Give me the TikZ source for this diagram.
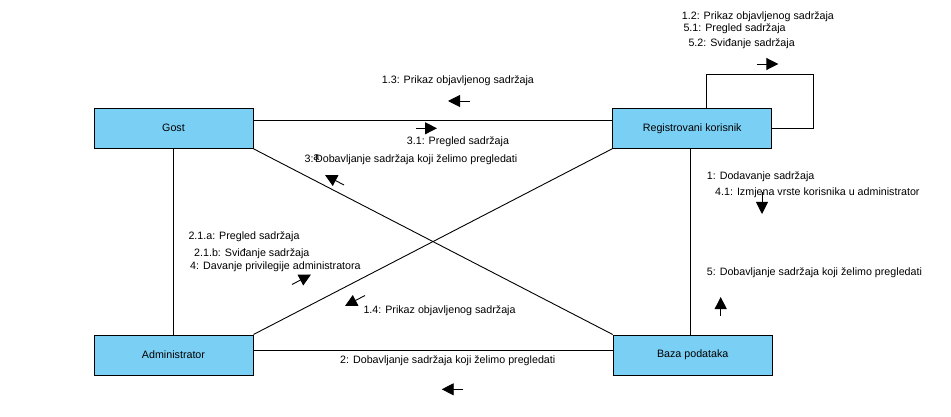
\documentclass[tikz,border=0pt]{standalone}
\usepackage{fontspec}
\setmainfont{Liberation Sans}
\usetikzlibrary{arrows.meta}
\definecolor{boxblue}{RGB}{122,207,245}
\begin{document}
\begin{tikzpicture}[x=1pt,y=-1pt,
  font=\fontsize{10.7}{12}\selectfont,
  box/.style={draw=black, line width=1pt, fill=boxblue, minimum width=159pt,
    minimum height=40pt, inner sep=0pt, anchor=center},
  conn/.style={line width=0.9pt},
  msg/.style={-{Triangle[length=12pt,width=12pt]}, line width=0.9pt},
  lbl/.style={fill=white, inner xsep=1.5pt, inner ysep=1pt, anchor=base west}]
\useasboundingbox (0,0) rectangle (951,417);

% box positions (drawn first to have anchors)
\node[box] (gost) at (173.5,128.3) {Gost};
\node[box] (reg) at (692.2,128.3) {Registrovani korisnik};
\node[box] (admin) at (173.5,355) {Administrator};
\node[box] (baza) at (692.7,355) {Baza podataka};
\coordinate (loopc) at (813.3,128.3);

% connectors
\draw[conn] ([yshift=8.3pt]gost.east) -- ([yshift=8.3pt]reg.west);
\draw[conn] ([yshift=5pt]admin.east) -- ([yshift=5pt]baza.west);
\draw[conn] (gost.south) -- (admin.north);
\draw[conn] ([xshift=-2.2pt]reg.south) -- ([xshift=-2.2pt]reg.south |- baza.north);
\draw[conn] (gost.south east) -- (baza.north west);
\draw[conn] (admin.north east) -- (reg.south west);
\draw[conn] ([xshift=14.5pt]reg.north) -- ++(0,-33.3) -| (loopc) -- (reg.east);

% boxes on top of connector ends
\node[box] at (gost) {Gost};
\node[box] at (reg) {Registrovani korisnik};
\node[box] at (admin) {Administrator};
\node[box] at (baza) {Baza podataka};

% labels
\node[lbl] (l12) at (680.2,19.5) {1.2: Prikaz objavljenog sadržaja};
\node[lbl] (l51) at (681.8,31.1) {5.1: Pregled sadržaja};
\node[lbl] (l52) at (686.8,46.8) {5.2: Sviđanje sadržaja};
\node[lbl] (l13) at (380.2,83.8) {1.3: Prikaz objavljenog sadržaja};
\node[lbl] (l31) at (405.2,144.8) {3.1: Pregled sadržaja};
\node[lbl] (l3) at (303,162.8) {3:\kern1.5pt Dobavljanje sadržaja koji želimo pregledati};
\node[anchor=base west, inner sep=0pt] (l3a) at (313.2,160.3) {a};
\node[lbl] (l21a) at (186.8,239.5) {2.1.a: Pregled sadržaja};
\node[lbl] (l21b) at (192.5,256.1) {2.1.b: Sviđanje sadržaja};
\node[lbl] (l4) at (188.5,269.8) {4: Davanje privilegije administratora};
\node[lbl] (l14) at (361.8,313.1) {1.4: Prikaz objavljenog sadržaja};
\node[lbl] (l2) at (338.5,363.1) {2: Dobavljanje sadržaja koji želimo pregledati};
\node[lbl] (l1) at (705.2,179.5) {1: Dodavanje sadržaja};
\node[lbl] (l41) at (713.5,195.5) {4.1: Izmjena vrste korisnika u administrator};
\node[lbl] (l5) at (705.2,275) {5: Dobavljanje sadržaja koji želimo pregledati};

% message arrows
\coordinate (a12s) at (756.7,64);   \coordinate (a12e) at (778.3,64);
\coordinate (a13s) at (470,101);    \coordinate (a13e) at (448,101);
\coordinate (a31s) at (416,128.3);  \coordinate (a31e) at (437,128.3);
\coordinate (a3s) at (344,185);     \coordinate (a3e) at (325,175);
\coordinate (a4s) at (292,284.5);   \coordinate (a4e) at (311,274.5);
\coordinate (a14s) at (365,295.5);  \coordinate (a14e) at (345,306);
\coordinate (a2s) at (463,389.3);   \coordinate (a2e) at (441.7,389.3);
\coordinate (a41s) at (762,192);    \coordinate (a41e) at (762,214);
\coordinate (a5s) at (720.7,316);   \coordinate (a5e) at (720.7,297);
\draw[msg] (a12s) -- (a12e);
\draw[msg] (a13s) -- (a13e);
\draw[msg] (a31s) -- (a31e);
\draw[msg] (a3s) -- (a3e);
\draw[msg] (a4s) -- (a4e);
\draw[msg] (a14s) -- (a14e);
\draw[msg] (a2s) -- (a2e);
\draw[msg] (a41s) -- (a41e);
\draw[msg] (a5s) -- (a5e);
\end{tikzpicture}
\end{document}
